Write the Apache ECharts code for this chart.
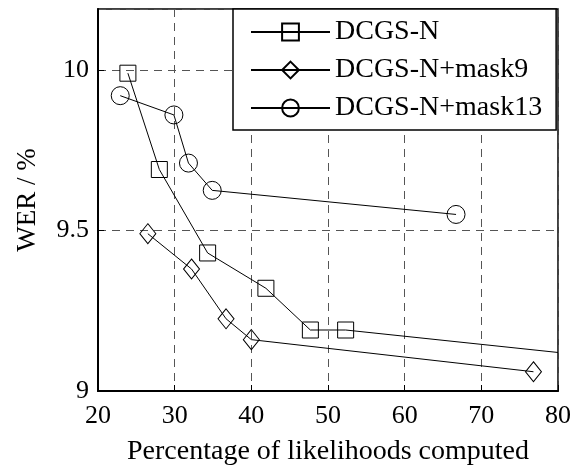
<!DOCTYPE html>
<html>
<head>
<meta charset="utf-8">
<script src="https://cdn.jsdelivr.net/npm/echarts@6/dist/echarts.min.js"></script>
<style>html,body{margin:0;padding:0;background:#fff;}#c{width:574px;height:465px;}</style>
</head>
<body>
<div id="c"></div>
<script>
var seriesNames = ['DCGS-N', 'DCGS-N+mask9', 'DCGS-N+mask13'];
var xTicks = [20, 30, 40, 50, 60, 70, 80];
var yTicks = [9, 9.5, 10];

var dcgsX = [23.9, 28.0, 34.3, 41.9, 47.7, 52.3, 80];
var dcgsY = [9.99, 9.69, 9.43, 9.32, 9.19, 9.19, 9.12];

var mask9X = [26.5, 32.2, 36.7, 40.0, 76.8];
var mask9Y = [9.49, 9.38, 9.225, 9.16, 9.06];

var mask13X = [22.9, 29.9, 31.8, 34.9, 66.7];
var mask13Y = [9.92, 9.86, 9.71, 9.625, 9.55];

var FONT = 'Liberation Serif';

function pairs(xs, ys, hideLast) {
  return xs.map(function (x, i) {
    var item = { value: [x, ys[i]] };
    if (hideLast && i === xs.length - 1) item.symbol = 'none';
    return item;
  });
}

function mkSeries(name, data, symbol, size) {
  return {
    name: name,
    type: 'line',
    data: data,
    symbol: symbol,
    symbolSize: size,
    showAllSymbol: true,
    clip: true,
    lineStyle: { color: '#000', width: 1 },
    itemStyle: { color: 'rgba(0,0,0,0)', borderColor: '#000', borderWidth: 1 },
    emphasis: { disabled: true },
    animation: false
  };
}

var chart = echarts.init(document.getElementById('c'), null, { renderer: 'canvas' });
chart.setOption({
  backgroundColor: '#fff',
  animation: false,
  textStyle: { fontFamily: FONT, color: '#000' },
  grid: { left: 98, right: 16, top: 9, bottom: 74, show: true, borderColor: '#000', borderWidth: 1.5, containLabel: false, outerBoundsMode: 'none' },
  legend: {
    orient: 'vertical',
    left: 233,
    top: 9,
    data: seriesNames,
    itemWidth: 79,
    itemHeight: 21,
    itemGap: 10,
    padding: [9, 14, 8, 17],
    backgroundColor: '#fff',
    borderColor: '#000',
    borderWidth: 1.5,
    borderRadius: 0,
    textStyle: { fontFamily: FONT, fontSize: 28, color: '#000', lineHeight: 27, padding: [0, 0, 0, 0] },
    z: 10
  },
  xAxis: {
    type: 'value',
    min: 20, max: 80, interval: 10,
    name: 'Percentage of likelihoods computed',
    nameLocation: 'middle',
    nameGap: 47,
    nameTextStyle: { fontFamily: FONT, fontSize: 28, color: '#000' },
    axisLine: { show: true, onZero: false, lineStyle: { color: '#000', width: 2 } },
    axisTick: { show: true, inside: true, length: 6, lineStyle: { color: '#000', width: 1 } },
    axisLabel: {
      fontFamily: FONT, fontSize: 26, color: '#000', margin: 12,
      formatter: function (v) { return xTicks.indexOf(v) >= 0 ? String(v) : ''; }
    },
    splitLine: { show: true, lineStyle: { color: '#555', width: 1, type: [8, 6] } }
  },
  yAxis: {
    type: 'value',
    min: 9, max: 10.19, interval: 0.5,
    name: 'WER / %',
    nameLocation: 'middle',
    nameGap: 57,
    nameRotate: 90,
    nameTextStyle: { fontFamily: FONT, fontSize: 27, color: '#000' },
    axisLine: { show: true, onZero: false, lineStyle: { color: '#000', width: 2 } },
    axisTick: { show: true, inside: true, length: 6, lineStyle: { color: '#000', width: 1 } },
    axisLabel: {
      fontFamily: FONT, fontSize: 26, color: '#000', margin: 9, showMaxLabel: false,
      formatter: function (v) { return yTicks.indexOf(v) >= 0 ? String(v) : ''; }
    },
    splitLine: { show: true, lineStyle: { color: '#555', width: 1, type: [8, 6] } }
  },
  series: [
    mkSeries(seriesNames[0], pairs(dcgsX, dcgsY, true), 'rect', 16),
    mkSeries(seriesNames[1], pairs(mask9X, mask9Y, false), 'diamond', [16, 20]),
    mkSeries(seriesNames[2], pairs(mask13X, mask13Y, false), 'circle', 18)
  ]
});
</script>
</body>
</html>
